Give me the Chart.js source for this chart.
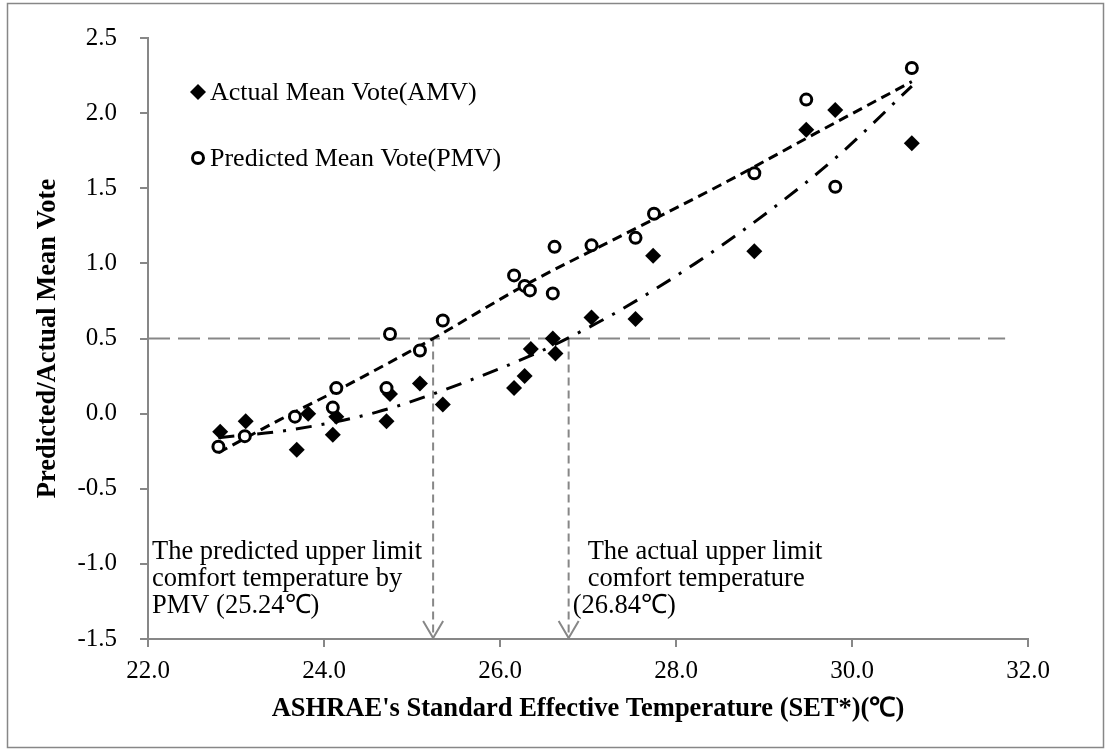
<!DOCTYPE html>
<html>
<head>
<meta charset="utf-8">
<script src="https://cdn.jsdelivr.net/npm/chart.js@4.4.1/dist/chart.umd.min.js"></script>
<style>
  html, body { margin: 0; padding: 0; background: #fff; }
  canvas { display: block; }
</style>
</head>
<body>
<canvas id="chart" width="1110" height="753"></canvas>
<script>
// ── Data ─────────────────────────────────────────────────────────
const amvX = [22.82, 23.11, 23.69, 23.82, 24.10, 24.14, 24.71, 24.75, 25.09, 25.35, 26.16, 26.28, 26.35, 26.60, 26.63, 27.04, 27.54, 27.74, 28.89, 29.48, 29.81, 30.68];
const amvY = [-0.12, -0.05, -0.24, 0.00, -0.14, -0.02, -0.05, 0.13, 0.20, 0.06, 0.17, 0.25, 0.43, 0.50, 0.40, 0.64, 0.63, 1.05, 1.08, 1.89, 2.02, 1.80];
const pmvX = [22.80, 23.10, 23.67, 24.10, 24.14, 24.71, 24.75, 25.09, 25.35, 26.16, 26.28, 26.34, 26.60, 26.62, 27.04, 27.54, 27.75, 28.89, 29.48, 29.81, 30.68];
const pmvY = [-0.22, -0.15, -0.02, 0.04, 0.17, 0.17, 0.53, 0.42, 0.62, 0.92, 0.85, 0.82, 0.80, 1.11, 1.12, 1.17, 1.33, 1.60, 2.09, 1.51, 2.30];

// trend lines as drawn in the picture
const amvFitX = [22.80, 23.60, 24.60, 25.56, 26.48, 26.93, 27.37, 28.22, 29.04, 29.83, 30.68];
const amvFitY = [-0.16, -0.11, 0.01, 0.20, 0.42, 0.55, 0.69, 1.00, 1.34, 1.71, 2.18];
const pmvFitX = [22.80, 23.50, 24.20, 25.24, 26.30, 27.40, 28.50, 29.60, 30.68];
const pmvFitY = [-0.26, -0.04, 0.17, 0.50, 0.86, 1.19, 1.52, 1.87, 2.21];

const xTicks = [22, 24, 26, 28, 30, 32];
const yTicks = [-1.5, -1.0, -0.5, 0.0, 0.5, 1.0, 1.5, 2.0, 2.5];

const comfortVote = 0.5;
const comfortLineEnd = 31.74;
const comfortPMV = 25.24;
const comfortAMV = 26.78;

const legendLabels = ['Actual Mean Vote(AMV)', 'Predicted Mean Vote(PMV)'];
const notePMV = ['The predicted upper limit', 'comfort temperature by', 'PMV (25.24℃)'];
const noteAMV = ['The actual upper limit', 'comfort temperature', '(26.84℃)'];

// ── Helpers ──────────────────────────────────────────────────────
const SERIF = '"Liberation Serif", "Times New Roman", serif';
const GRAY = '#878787';
const pts = (xs, ys) => xs.map((x, i) => ({ x, y: ys[i] }));

const framePlugin = {
  id: 'frame',
  beforeDraw(chart) {
    const { ctx, width, height } = chart;
    ctx.save();
    ctx.fillStyle = '#fff';
    ctx.fillRect(0, 0, width, height);
    ctx.strokeStyle = GRAY;
    ctx.lineWidth = 1.5;
    ctx.strokeRect(7.5, 3.5, width - 14, height - 9);
    ctx.restore();
  }
};

const notesPlugin = {
  id: 'notes',
  afterDatasetsDraw(chart) {
    const { ctx, chartArea: ca, scales: { x, y } } = chart;
    const base = y.getPixelForValue(yTicks[0]);
    ctx.save();
    // arrow heads
    ctx.strokeStyle = GRAY;
    ctx.lineWidth = 2;
    [comfortPMV, comfortAMV].forEach(v => {
      const px = x.getPixelForValue(v);
      ctx.beginPath();
      ctx.moveTo(px - 10, base - 18);
      ctx.lineTo(px, base - 1);
      ctx.lineTo(px + 10, base - 18);
      ctx.stroke();
    });
    // notes
    ctx.fillStyle = '#000';
    ctx.font = `26.5px ${SERIF}`;
    ctx.textBaseline = 'alphabetic';
    ctx.textAlign = 'left';
    notePMV.forEach((t, i) => ctx.fillText(t, ca.left + 4, base - 80 + i * 27));
    const ax = x.getPixelForValue(comfortAMV);
    noteAMV.forEach((t, i) => ctx.fillText(t, ax + (i === 2 ? 4 : 19), base - 80 + i * 27));
    // legend
    ctx.font = `26px ${SERIF}`;
    ctx.textBaseline = 'middle';
    const lx = ca.left + 50;
    const ly1 = ca.top + 54, ly2 = ca.top + 120;
    ctx.beginPath();
    ctx.moveTo(lx, ly1 - 8); ctx.lineTo(lx + 8, ly1); ctx.lineTo(lx, ly1 + 8); ctx.lineTo(lx - 8, ly1);
    ctx.closePath();
    ctx.fill();
    ctx.beginPath();
    ctx.arc(lx, ly2, 5.5, 0, Math.PI * 2);
    ctx.fillStyle = '#fff';
    ctx.fill();
    ctx.lineWidth = 3;
    ctx.strokeStyle = '#000';
    ctx.stroke();
    ctx.fillStyle = '#000';
    ctx.fillText(legendLabels[0], lx + 12, ly1 + 1);
    ctx.fillText(legendLabels[1], lx + 12, ly2 + 1);
    ctx.restore();
  }
};

// ── Chart ────────────────────────────────────────────────────────
new Chart(document.getElementById('chart'), {
  type: 'scatter',
  data: {
    datasets: [
      { label: 'PMV', data: pts(pmvX, pmvY), pointStyle: 'circle', pointRadius: 5.5, borderWidth: 3, borderColor: '#000', backgroundColor: '#fff', order: 0 },
      { label: 'AMV', data: pts(amvX, amvY), pointStyle: 'rectRot', pointRadius: 8, borderWidth: 0, borderColor: '#000', backgroundColor: '#000', order: 1 },
      { label: 'PMV fit', data: pts(pmvFitX, pmvFitY), showLine: true, pointRadius: 0, borderColor: '#000', borderWidth: 3, borderDash: [10, 6], cubicInterpolationMode: 'monotone', order: 2 },
      { label: 'AMV fit', data: pts(amvFitX, amvFitY), showLine: true, pointRadius: 0, borderColor: '#000', borderWidth: 3, borderDash: [16, 10, 3, 10], cubicInterpolationMode: 'monotone', order: 2 },
      { label: 'limit', data: [{ x: xTicks[0], y: comfortVote }, { x: comfortLineEnd, y: comfortVote }], showLine: true, pointRadius: 0, borderColor: GRAY, borderWidth: 2, borderDash: [22, 8], order: 3 },
      { label: 'pmv limit', data: [{ x: comfortPMV, y: comfortVote }, { x: comfortPMV, y: yTicks[0] }], showLine: true, pointRadius: 0, borderColor: GRAY, borderWidth: 2, borderDash: [8, 5], order: 3 },
      { label: 'amv limit', data: [{ x: comfortAMV, y: comfortVote }, { x: comfortAMV, y: yTicks[0] }], showLine: true, pointRadius: 0, borderColor: GRAY, borderWidth: 2, borderDash: [8, 5], order: 3 }
    ]
  },
  options: {
    responsive: false,
    animation: false,
    events: [],
    layout: { padding: { left: 0, right: 82, top: 34, bottom: 0 } },
    plugins: { legend: { display: false }, tooltip: { enabled: false } },
    scales: {
      x: {
        type: 'linear', min: xTicks[0], max: xTicks[xTicks.length - 1],
        afterBuildTicks: s => { s.ticks = xTicks.map(v => ({ value: v })); },
        afterFit: s => { s.height = 114; },
        ticks: { callback: v => v.toFixed(1), color: '#000', font: { family: SERIF, size: 25 }, padding: 9, maxRotation: 0 },
        grid: { drawOnChartArea: false, tickLength: 8, color: GRAY, lineWidth: 2 },
        border: { color: GRAY, width: 2 },
        title: { display: true, text: "ASHRAE's Standard Effective Temperature (SET*)(℃)", color: '#000', font: { family: SERIF, size: 26.5, weight: 'bold' }, padding: { top: 0, bottom: 28 } }
      },
      y: {
        type: 'linear', min: yTicks[0], max: yTicks[yTicks.length - 1],
        afterBuildTicks: s => { s.ticks = yTicks.map(v => ({ value: v })); },
        afterFit: s => { s.width = 148; },
        ticks: { callback: v => v.toFixed(1), color: '#000', font: { family: SERIF, size: 25 }, padding: 23 },
        grid: { drawOnChartArea: false, tickLength: 8, color: GRAY, lineWidth: 2 },
        border: { color: GRAY, width: 2 },
        title: { display: true, text: 'Predicted/Actual Mean Vote', color: '#000', font: { family: SERIF, size: 26.5, weight: 'bold' }, padding: { top: 32, bottom: 0 } }
      }
    }
  },
  plugins: [framePlugin, notesPlugin]
});
</script>
</body>
</html>
